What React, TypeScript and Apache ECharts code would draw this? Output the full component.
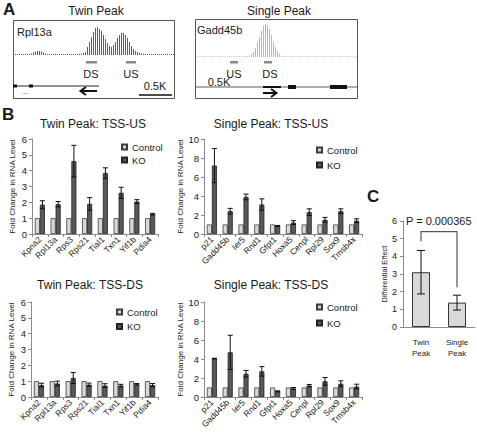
import React, { useEffect, useRef } from 'react';
import * as echarts from 'echarts';

const FONT = '"Liberation Sans", Arial, sans-serif';

// ---------- Panel A : read-density tracks ----------
const twinTrack = [
  1, 1, 1.2, 1, 1, 1.2, 1, 1,
  1.5, 2.5, 3.5, 4, 4, 3.5, 2.5, 1.5,
  1, 1.2, 1, 1, 1.2, 1, 1, 1.2, 1, 1, 1.2, 1, 1, 1.2, 1, 1, 1.2, 1.5, 2,
  3, 8, 13, 18, 23, 27, 28, 26, 24, 20, 16, 12, 9, 8, 10, 13, 17, 20, 22, 22, 20, 17, 13, 9, 6, 4, 3, 2,
  1.5, 1.2, 1.2, 1, 1.2, 1, 1, 1.2, 1, 1, 1.2, 1, 1, 1.2, 1, 1, 1,
];
const singleTrack = [
  0.7, 0.7, 0.7, 0.7, 0.7, 0.7, 0.7, 0.7, 0.7, 0.7, 0.7, 0.7, 0.7, 0.7, 0.7, 0.7, 0.7, 0.7, 0.7, 0.7, 0.7, 0.7, 0.7, 0.7, 0.7,
  1, 1.5, 3, 5, 9, 14, 20, 26, 31, 33, 32, 28, 22, 15, 10, 6, 3, 1.5, 1,
  0.7, 0.7, 0.7, 0.7, 0.7, 0.7, 0.7, 0.7, 0.7, 0.7, 0.7, 0.7, 0.7, 0.7, 0.7, 0.7, 0.7, 0.7,
  0.7, 0.7, 0.7, 0.7, 0.7, 0.7, 0.7, 0.7, 0.7, 0.7, 0.7, 0.7, 0.7, 0.7, 0.7, 0.7, 0.7, 0.7,
];

// ---------- Panel B ----------
const twinGenes = ['Kpna2', 'Rpl13a', 'Rps3', 'Rps21', 'Tial1', 'Txn1', 'Yif1b', 'Pdia4'];
const singleGenes = ['p21', 'Gadd45b', 'Ier5', 'Rnd1', 'Gfpt1', 'Hoxa5', 'Cenpl', 'Rpl29', 'Sox9', 'Tmsb4x'];

const twinControl = [1, 1, 1, 1, 1, 1, 1, 1];
const singleControl = [1, 1, 1, 1, 1, 1, 1, 1, 1, 1];

const twinUsKO = [1.85, 1.88, 4.6, 1.9, 3.85, 2.6, 2.05, 1.25];
const twinUsErr = [0.25, 0.17, 1.0, 0.4, 0.33, 0.35, 0.12, 0.05];
const singleUsKO = [7.2, 2.4, 3.9, 3.1, 0.85, 1.2, 2.3, 1.5, 2.4, 1.4];
const singleUsErr = [1.8, 0.3, 0.3, 0.6, 0.05, 0.2, 0.35, 0.25, 0.25, 0.2];
const twinDsKO = [0.75, 0.85, 1.2, 0.78, 0.72, 0.72, 0.8, 0.75];
const twinDsErr = [0.12, 0.15, 0.35, 0.1, 0.12, 0.08, 0.05, 0.1];
const singleDsKO = [4.05, 4.7, 2.45, 2.7, 0.6, 0.9, 1.2, 1.65, 1.4, 1.1];
const singleDsErr = [0.03, 1.8, 0.35, 0.5, 0.05, 0.1, 0.12, 0.4, 0.3, 0.25];

// ---------- Panel C ----------
const effectCats = ['Twin\nPeak', 'Single\nPeak'];
const effectValues = [3.1, 1.38];
const effectErr = [1.23, 0.42];
const bracketLevels = [4.85, 5.4, 2.25]; // left foot, top, right foot
const pValueLabel = 'P = 0.000365';

const TXT = '#1a1a1a';
const AX = '#8c8c8c';

function errorRender(offsetFrac: number, capFrac: number) {
  return (params: any, api: any) => {
    const i = api.value(0);
    const v = api.value(1);
    const e = api.value(2);
    const band = api.size([1, 0])[0];
    const top = api.coord([i, v + e]);
    const bot = api.coord([i, Math.max(v - e, 0)]);
    const x = top[0] + band * offsetFrac;
    const c = band * capFrac;
    const st = { stroke: '#111', lineWidth: 1 };
    return {
      type: 'group',
      children: [
        { type: 'line', shape: { x1: x, y1: top[1], x2: x, y2: bot[1] }, style: st },
        { type: 'line', shape: { x1: x - c, y1: top[1], x2: x + c, y2: top[1] }, style: st },
        { type: 'line', shape: { x1: x - c, y1: bot[1], x2: x + c, y2: bot[1] }, style: st },
      ],
    };
  };
}

function txt(text: string, x: number, y: number, size: number, align = 'center', bold = false) {
  return {
    type: 'text',
    x,
    y,
    style: {
      text,
      fill: TXT,
      fontSize: size,
      fontFamily: FONT,
      fontWeight: bold ? 'bold' : 'normal',
      textAlign: align,
      textVerticalAlign: 'middle',
      align,
      verticalAlign: 'middle',
    },
  };
}
function ln(x1: number, y1: number, x2: number, y2: number, w = 1, color = '#111') {
  return { type: 'line', shape: { x1, y1, x2, y2 }, style: { stroke: color, lineWidth: w } };
}
function box(x: number, y: number, width: number, height: number, fill: string) {
  return { type: 'rect', shape: { x, y, width, height }, style: { fill } };
}

export default function App() {
  const ref = useRef<HTMLDivElement>(null);
  useEffect(() => {
    if (!ref.current) return;
    const chart = echarts.init(ref.current, undefined, { renderer: 'svg' });

    const valAxis = (grid: number, max: number, interval: number, gap: number) => ({
      type: 'value',
      gridIndex: grid,
      min: 0,
      max,
      interval,
      axisLine: { show: true, lineStyle: { color: AX } },
      axisTick: { show: true, length: 3, lineStyle: { color: AX } },
      splitLine: { show: false },
      axisLabel: { fontSize: 9.5, color: TXT, fontFamily: FONT, margin: 5 },
      name: 'Fold Change in RNA Level',
      nameLocation: 'middle',
      nameRotate: 90,
      nameGap: gap,
      nameTextStyle: { fontSize: 8, color: TXT, fontFamily: FONT },
    });
    const catAxis = (grid: number, data: string[]) => ({
      type: 'category',
      gridIndex: grid,
      data,
      axisLine: { show: true, lineStyle: { color: AX } },
      axisTick: { show: true, length: 3, lineStyle: { color: AX } },
      axisLabel: { rotate: 45, fontSize: 8.5, color: TXT, fontFamily: FONT, margin: 4, interval: 0 },
    });
    const trackX = (grid: number, n: number) => ({
      type: 'category',
      gridIndex: grid,
      data: Array.from({ length: n }, (_, i) => String(i)),
      show: false,
    });
    const trackY = (grid: number, max: number) => ({ type: 'value', gridIndex: grid, min: 0, max, show: false });

    const pair = (grid: number, ctrl: number[], ko: number[], err: number[]) => [
      {
        type: 'bar', name: 'Control', xAxisIndex: grid, yAxisIndex: grid, data: ctrl,
        barWidth: '32%', barGap: '0%',
        itemStyle: { color: '#d9d9d9', borderColor: '#3a3a3a', borderWidth: 0.8 },
      },
      {
        type: 'bar', name: 'KO', xAxisIndex: grid, yAxisIndex: grid, data: ko,
        barWidth: '32%', barGap: '0%',
        itemStyle: { color: '#595959', borderColor: '#222', borderWidth: 0.8 },
      },
      {
        type: 'custom', xAxisIndex: grid, yAxisIndex: grid, z: 10,
        renderItem: errorRender(0.16, 0.16),
        data: ko.map((v, i) => [i, v, err[i]]),
      },
    ];

    const legendAt = (left: number, top: number, gap: number) => ({
      left, top, orient: 'vertical', padding: 0, itemWidth: 5, itemHeight: 5, itemGap: gap,
      icon: 'rect', data: ['Control', 'KO'], selectedMode: false,
      textStyle: { fontSize: 9.5, color: TXT, fontFamily: FONT },
    });

    const option: any = {
      animation: false,
      backgroundColor: '#ffffff',
      textStyle: { fontFamily: FONT },
      grid: [
        { left: 14.5, top: 25, width: 160, height: 30 },
        { left: 196.5, top: 22, width: 160, height: 35 },
        { left: 32, top: 139, width: 126, height: 95 },
        { left: 204, top: 139, width: 158, height: 95 },
        { left: 31, top: 302, width: 127, height: 95 },
        { left: 204, top: 302, width: 158, height: 95 },
        { left: 403, top: 221, width: 72, height: 106 },
      ],
      xAxis: [
        trackX(0, twinTrack.length),
        trackX(1, singleTrack.length),
        catAxis(2, twinGenes),
        catAxis(3, singleGenes),
        catAxis(4, twinGenes),
        catAxis(5, singleGenes),
        {
          type: 'category', gridIndex: 6, data: effectCats,
          axisLine: { show: true, lineStyle: { color: AX } },
          axisTick: { show: false },
          axisLabel: { fontSize: 8, color: TXT, fontFamily: FONT, margin: 10, lineHeight: 11 },
        },
      ],
      yAxis: [
        trackY(0, 30),
        trackY(1, 35),
        valAxis(2, 6, 1, 16),
        valAxis(3, 10, 2, 20),
        valAxis(4, 6, 1, 16),
        valAxis(5, 10, 2, 20),
        {
          type: 'value', gridIndex: 6, min: 0, max: 6, interval: 1,
          axisLine: { show: true, lineStyle: { color: AX } },
          axisTick: { show: true, length: 3, lineStyle: { color: AX } },
          splitLine: { show: false },
          axisLabel: { fontSize: 9, color: TXT, fontFamily: FONT, margin: 6 },
          name: 'Differential Effect', nameLocation: 'middle', nameRotate: 90, nameGap: 15,
          nameTextStyle: { fontSize: 7.5, color: TXT, fontFamily: FONT },
        },
      ],
      legend: [
        legendAt(121, 142, 3),
        legendAt(316, 145, 5),
        legendAt(116, 307, 4.5),
        legendAt(316, 302, 6),
      ],
      series: [
        {
          type: 'bar', xAxisIndex: 0, yAxisIndex: 0, data: twinTrack, barWidth: 1,
          itemStyle: { color: '#5e5e5e' },
        },
        {
          type: 'bar', xAxisIndex: 1, yAxisIndex: 1, data: singleTrack, barWidth: 1,
          itemStyle: { color: '#b8b8b8' },
        },
        ...pair(2, twinControl, twinUsKO, twinUsErr),
        ...pair(3, singleControl, singleUsKO, singleUsErr),
        ...pair(4, twinControl, twinDsKO, twinDsErr),
        ...pair(5, singleControl, singleDsKO, singleDsErr),
        {
          type: 'bar', xAxisIndex: 6, yAxisIndex: 6, data: effectValues, barWidth: '50%',
          itemStyle: { color: '#d9d9d9', borderColor: '#333', borderWidth: 1 },
        },
        {
          type: 'custom', xAxisIndex: 6, yAxisIndex: 6, z: 10,
          renderItem: errorRender(0, 0.11),
          data: effectValues.map((v, i) => [i, v, effectErr[i]]),
        },
        {
          type: 'custom', xAxisIndex: 6, yAxisIndex: 6, z: 10,
          renderItem: (params: any, api: any) => {
            const a = api.coord([0, api.value(0)]);
            const t0 = api.coord([0, api.value(1)]);
            const t1 = api.coord([1, api.value(1)]);
            const b = api.coord([1, api.value(2)]);
            return {
              type: 'polyline',
              shape: { points: [a, t0, t1, b] },
              style: { stroke: '#555', lineWidth: 1.2, fill: 'none' },
            };
          },
          data: [bracketLevels],
        },
      ],
      graphic: [
        // panel letters
        txt('A', 3, 9, 17, 'left', true),
        txt('B', 2, 114, 17, 'left', true),
        txt('C', 367, 196, 17, 'left', true),
        // panel A titles and frames
        txt('Twin Peak', 96, 11, 12),
        txt('Single Peak', 279, 11, 12),
        { type: 'rect', shape: { x: 13.5, y: 20.5, width: 161, height: 78 }, style: { fill: 'none', stroke: '#555', lineWidth: 1 } },
        { type: 'rect', shape: { x: 195.5, y: 19.5, width: 162, height: 79 }, style: { fill: 'none', stroke: '#555', lineWidth: 1 } },
        txt('Rpl13a', 17, 32, 11, 'left'),
        txt('Gadd45b', 197, 30, 11, 'left'),
        // twin peak annotations
        box(86, 61, 11, 2.5, '#8a8a8a'),
        box(126, 61, 10, 2.5, '#8a8a8a'),
        txt('DS', 91, 74, 11),
        txt('US', 131, 74, 11),
        ln(14, 86, 99, 86, 0.9),
        box(13, 84.5, 4, 3, '#111'),
        box(29, 84.5, 4, 3, '#111'),
        ln(23, 93.5, 28, 93.5, 0.8, '#aaa'),
        ln(81, 91, 97, 91, 2),
        { type: 'polyline', shape: { points: [[86, 87], [80.5, 91], [86, 95]] }, style: { stroke: '#111', lineWidth: 2, fill: 'none' } },
        txt('0.5K', 155, 86, 11),
        ln(139, 95, 172, 95, 1.5),
        // single peak annotations
        box(264, 61, 8, 2.5, '#8a8a8a'),
        box(230, 61, 8, 2.5, '#8a8a8a'),
        txt('DS', 270, 74, 11),
        txt('US', 234, 74, 11),
        ln(196, 87, 357, 87, 0.8, '#333'),
        box(263, 86, 18, 2, '#111'),
        box(288, 85, 8, 4, '#111'),
        box(330, 85, 17, 4, '#111'),
        ln(263, 93, 276, 93, 2),
        { type: 'polyline', shape: { points: [[271, 89], [276.5, 93], [271, 97]] }, style: { stroke: '#111', lineWidth: 2, fill: 'none' } },
        txt('0.5K', 219, 82, 11),
        // panel B titles
        txt('Twin Peak: TSS-US', 93, 124, 12),
        txt('Single Peak: TSS-US', 271, 124, 12),
        txt('Twin Peak: TSS-DS', 90, 285, 12),
        txt('Single Peak: TSS-DS', 271, 285, 12),
        // panel C p-value
        txt(pValueLabel, 406, 221, 11, 'left'),
      ],
    };
    chart.setOption(option);
    return () => chart.dispose();
  }, []);
  return (
    <div
      ref={ref}
      style={{ position: 'absolute', left: 0, top: 0, width: 477, height: 437, background: '#fff' }}
    />
  );
}
